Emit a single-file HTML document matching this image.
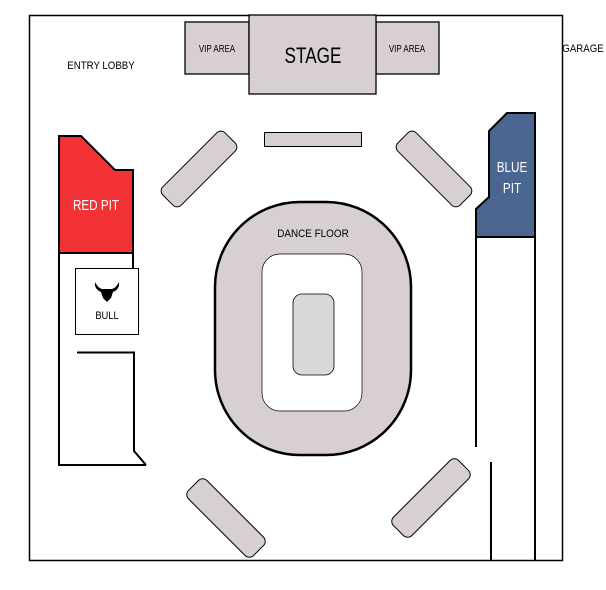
<!DOCTYPE html>
<html><head><meta charset="utf-8"><style>
html,body{margin:0;padding:0;background:#fff;}
svg text{font-family:"Liberation Sans",sans-serif;}
</style></head><body>
<svg width="606" height="585" viewBox="0 0 606 585" xmlns="http://www.w3.org/2000/svg">
<rect x="0" y="0" width="606" height="585" fill="#fff"/>
<rect x="29.5" y="15.5" width="533" height="545" fill="none" stroke="#000" stroke-width="1.5"/>
<rect x="185" y="22" width="64" height="52" fill="#d7cfd0" stroke="#000" stroke-width="1.3"/>
<rect x="376" y="22" width="63" height="52" fill="#d7cfd0" stroke="#000" stroke-width="1.3"/>
<rect x="249" y="15" width="127" height="79" fill="#d7cfd0" stroke="#000" stroke-width="1.3"/>
<text x="217" y="52" font-size="10" text-anchor="middle" transform="translate(217 0) scale(0.8 1) translate(-217 0)">VIP AREA</text>
<text x="407" y="52" font-size="10" text-anchor="middle" transform="translate(407 0) scale(0.8 1) translate(-407 0)">VIP AREA</text>
<text x="313" y="63" font-size="22" text-anchor="middle" transform="translate(313 0) scale(0.78 1) translate(-313 0)">STAGE</text>
<text x="101" y="69" font-size="11" text-anchor="middle" transform="translate(101 0) scale(0.88 1) translate(-101 0)">ENTRY LOBBY</text>
<text x="583" y="52" font-size="11" text-anchor="middle" transform="translate(583 0) scale(0.88 1) translate(-583 0)">GARAGE</text>
<polygon points="59,136 81,136 115,170 133,170 133,253 59,253" fill="#f33236" stroke="#000" stroke-width="2"/>
<text x="96" y="210" font-size="15" fill="#fff" text-anchor="middle" transform="translate(96 0) scale(0.78 1) translate(-96 0)">RED PIT</text>
<polyline points="59,253 59,465 146,465" fill="none" stroke="#000" stroke-width="2"/>
<line x1="133" y1="253" x2="133" y2="268" stroke="#000" stroke-width="2"/>
<rect x="75.5" y="268.5" width="63" height="66" fill="#fff" stroke="#000" stroke-width="1"/>
<path d="M95,282 q3,6 7,7 l10,0 q4,-1 7,-7 q1,7 -6,10 l-2,6 l-4,4 l-4,-4 l-2,-6 q-7,-3 -6,-10z" fill="#000"/>
<text x="107" y="319" font-size="11" text-anchor="middle" transform="translate(107 0) scale(0.85 1) translate(-107 0)">BULL</text>
<polyline points="77,352.5 134,352.5 134,451 146,465" fill="none" stroke="#000" stroke-width="2"/>
<polygon points="507,113 535,113 535,237 476,237 476,209 489,197 489,131" fill="#4a6590" stroke="#000" stroke-width="2"/>
<text x="512" y="172" font-size="15" fill="#fff" text-anchor="middle" transform="translate(512 0) scale(0.78 1) translate(-512 0)">BLUE</text>
<text x="512" y="193" font-size="15" fill="#fff" text-anchor="middle" transform="translate(512 0) scale(0.78 1) translate(-512 0)">PIT</text>
<line x1="476" y1="237" x2="476" y2="447" stroke="#000" stroke-width="2"/>
<line x1="535" y1="237" x2="535" y2="560" stroke="#000" stroke-width="2"/>
<line x1="491" y1="462" x2="491" y2="560" stroke="#000" stroke-width="2"/>
<rect x="264.5" y="132.5" width="97" height="14" fill="#d7cfd0" stroke="#000" stroke-width="1"/>
<g fill="#d7cfd0" stroke="#000" stroke-width="1">
<rect x="-44" y="-13" width="88" height="26" rx="6" transform="translate(199 169) rotate(-45)"/>
<rect x="-44" y="-13" width="88" height="26" rx="6" transform="translate(434 169) rotate(45)"/>
<rect x="-46" y="-13" width="92" height="26" rx="6" transform="translate(226 518) rotate(45)"/>
<rect x="-46" y="-13" width="92" height="26" rx="6" transform="translate(431 498) rotate(-45)"/>
</g>
<rect x="215" y="202" width="196" height="253" rx="85" fill="#d7cfd0" stroke="#000" stroke-width="2.5"/>
<rect x="262" y="254" width="100" height="157" rx="18" fill="#fff" stroke="#000" stroke-width="0.7"/>
<rect x="293" y="294" width="41" height="81" rx="9" fill="#d8d8d8" stroke="#000" stroke-width="0.8"/>
<text x="313" y="237" font-size="11" text-anchor="middle" transform="translate(313 0) scale(0.9 1) translate(-313 0)">DANCE FLOOR</text>
</svg>
</body></html>
